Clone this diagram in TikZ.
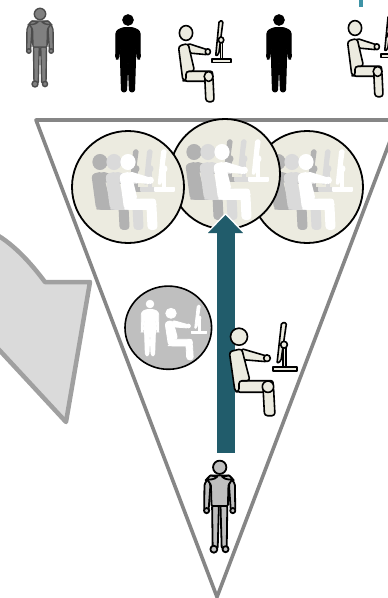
\documentclass[tikz,border=0pt]{standalone}
\usetikzlibrary{positioning}

\definecolor{barteal}{HTML}{215C6B}
\definecolor{tophint}{HTML}{3E93A6}
\definecolor{frameline}{HTML}{868686}
\definecolor{paper}{HTML}{ECEBE0}
\definecolor{dimgrey}{HTML}{B2B2B2}
\definecolor{palegrey}{HTML}{DADADA}
\definecolor{midgrey}{HTML}{BFBFBF}

\tikzset{
    seated/.pic={
        % monitor first, person over it
        \path[pic actions] (44,8) -- (47,8) -- (47,31) -- (44,31) -- cycle;
        \path[pic actions] (33.7,30) rectangle (57.7,34);
        \path[pic actions, rounded corners=1.5pt] (42.5,-14) -- (47.5,-14) -- (42,24) -- (38,27) -- cycle;
        \path[pic actions] (45,8) circle (3.4);
        \path[pic actions] (0,0) circle (8.5);
        \path[pic actions, rounded corners=2pt] (-1,44) -- (34,44) -- (34,55.5) -- (-1,55.5) -- cycle;
        \path[pic actions, rounded corners=3pt] (24,50) -- (25.5,79) -- (36,79) -- (34.5,50) -- cycle;
        \path[pic actions] (29,50) circle (5.7);
        \path[pic actions, rounded corners=2pt] (2.7,12) -- (30,20) -- (28,25) -- (4,23) -- cycle;
        \path[pic actions, rounded corners=3pt] (-9.7,15) -- (2.7,12) -- (11,44) -- (0,44) -- (0,55) -- (-4,55) -- cycle;
        \path[pic actions] (28,21.5) circle (3.3);
    },
    standing/.pic={
        \path[pic actions] (0,0) circle (5.3);
        \path[pic actions, rounded corners=2.5pt] (-5,7.5) -- (5,7.5) -- (12,11) -- (12.3,39)
            -- (9.3,39) -- (8,19) -- (7.5,40) -- (6.5,72) -- (1.5,72) -- (0,38)
            -- (-1.5,72) -- (-6.5,72) -- (-7.5,40) -- (-8,19) -- (-9.3,39) -- (-12.3,39)
            -- (-12,11) -- cycle;
    },
    padded/.pic={
        \path[pic actions] (0,0) circle (5.7);
        \path[pic actions, rounded corners=1.5pt] (-9,9) -- (-13,14) -- (-13.3,37) -- (-9.5,37) -- (-8,16) -- cycle;
        \path[pic actions, rounded corners=1.5pt] (9,9) -- (13,14) -- (13.3,37) -- (9.5,37) -- (8,16) -- cycle;
        \path[pic actions, rounded corners=1pt] (-6.5,33) -- (-0.7,33) -- (-1.7,69) -- (-6,69) -- cycle;
        \path[pic actions, rounded corners=1pt] (6.5,33) -- (0.7,33) -- (1.7,69) -- (6,69) -- cycle;
        \path[pic actions, rounded corners=1pt] (-8,7) -- (8,7) -- (11,10) -- (7.5,15) -- (7,33) -- (-7,33) -- (-7.5,15) -- (-11,10) -- cycle;
        \path[pic actions] (-12,11) .. controls (-8,10) and (-5,11) .. (-2,8) -- (-8,7) -- cycle;
        \path[pic actions] (12,11) .. controls (8,10) and (5,11) .. (2,8) -- (8,7) -- cycle;
        \path[pic actions] (-11.2,37) circle (2.2);
        \path[pic actions] (11.2,37) circle (2.2);
        \path[pic actions] (-5,70) circle (3);
        \path[pic actions] (5,70) circle (2.6);
    },
    seatedtrio/.pic={
        \pic[fill=dimgrey, draw=dimgrey, line width=1.6pt, xscale=.8, yscale=.85] at (0,0) {seated};
        \pic[fill=palegrey, draw=palegrey, line width=1.6pt, xscale=.8, yscale=.85] at (14,0) {seated};
        \pic[fill=white, draw=white, line width=1.6pt, xscale=.8, yscale=.85] at (28,0) {seated};
    }
}

\begin{document}
\begin{tikzpicture}[
        x=1pt, y=-1pt,
        line join=round,
        frame/.style={draw=frameline, line width=3.6pt},
        person/.style={draw=black, line width=1.6pt, fill=paper},
        bubble/.style={draw=black, line width=1.8pt, fill=paper},
        sideshape/.style={draw=dimgrey!90!black, line width=4.5pt, fill=palegrey}
    ]

    \clip (0,0) rectangle (388,598);

    % top row
    \pic[draw=black!70, line width=1.4pt, fill=black!50] at (40,14) {padded};
    \pic[fill=black, draw=black, line width=1pt] at (128,20) {standing};
    \pic[person, xscale=.78, yscale=.87] at (186,33) {seated};
    \pic[fill=black, draw=black, line width=1pt] at (279,20) {standing};
    \pic[person, xscale=.78, yscale=.87] at (355,28) {seated};
    \fill[tophint] (359,0) rectangle (363,7);

    % grey arrow on the left
    \draw[sideshape] (-10,231) .. controls (12,242) and (30,262) .. (45,282)
        -- (90,282) -- (66,422) -- (-10,340) -- cycle;

    % funnel
    \draw[frame] (36,120) -- (217,597) -- (398,120) -- cycle;

    % bubbles at the top
    \draw[bubble] (307,187) circle (56);
    \pic at (278,162) {seatedtrio};
    \draw[bubble] (225,174) circle (55);
    \pic at (194,152) {seatedtrio};
    \draw[bubble] (128,187) circle (56);
    \pic at (100,162) {seatedtrio};

    % grey bubble
    \draw[black, line width=1.6pt, fill=midgrey] (168.3,327.7) ellipse (43.3 and 41.6);
    \pic[fill=white, draw=white, line width=.8pt, xscale=.72, yscale=.72] at (150,304) {standing};
    \pic[fill=white, draw=white, line width=.8pt, xscale=.62, yscale=.59] at (171,313.3) {seated};

    % rising arrow
    \draw[white, line width=3pt, fill=barteal] (208,233) -- (225.5,215) -- (243,233) -- cycle;
    \fill[barteal] (208,233) -- (225.5,215) -- (243,233) -- cycle;
    \fill[barteal] (216.5,232) rectangle (235,453);

    % person at the bar and below it
    \pic[person] at (239,336.7) {seated};
    \pic[draw=black, line width=1.8pt, fill=midgrey, scale=1.17] at (219.7,467.3) {padded};

\end{tikzpicture}
\end{document}
